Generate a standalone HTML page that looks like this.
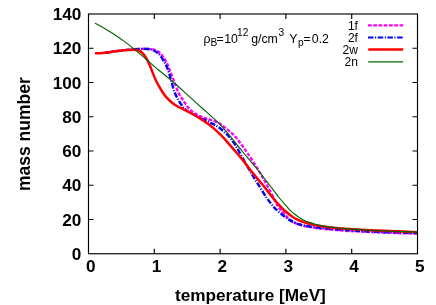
<!DOCTYPE html>
<html><head><meta charset="utf-8"><style>
html,body{margin:0;padding:0;background:#fff;}
body{width:436px;height:305px;overflow:hidden;}
svg{display:block;font-family:"Liberation Sans",sans-serif;}
.b{font-weight:bold;font-size:17.2px;fill:#000;}
.r{font-size:12.3px;fill:#000;}
</style></head><body>
<svg width="436" height="305" viewBox="0 0 436 305">
<defs><filter id="idf" x="0" y="0" width="436" height="305" filterUnits="userSpaceOnUse" color-interpolation-filters="sRGB"><feOffset dx="0" dy="0"/></filter></defs>
<rect width="436" height="305" fill="#fff"/>
<clipPath id="cp"><rect x="88.5" y="14.0" width="329.0" height="239.75"/></clipPath>
<g fill="none" stroke-linejoin="round" clip-path="url(#cp)">
<path d="M105.20,52.70 C106.15,52.57 108.98,52.17 110.90,51.90 C112.82,51.63 114.78,51.36 116.70,51.10 C118.62,50.84 120.50,50.56 122.40,50.35 C124.30,50.14 126.07,50.03 128.10,49.85 C130.13,49.67 132.37,49.46 134.60,49.30 C136.83,49.14 139.18,48.97 141.50,48.90 C143.82,48.83 146.33,48.73 148.50,48.90 C150.67,49.07 152.50,49.12 154.50,49.90 C156.50,50.68 158.67,51.82 160.50,53.60 C162.33,55.38 164.18,58.45 165.50,60.60 C166.82,62.75 167.53,64.50 168.40,66.50 C169.27,68.50 169.65,69.87 170.70,72.60 C171.75,75.33 173.37,79.45 174.70,82.90 C176.03,86.35 177.33,90.47 178.70,93.30 C180.07,96.13 181.43,97.65 182.90,99.90 C184.37,102.15 185.77,104.72 187.50,106.80 C189.23,108.88 191.38,110.93 193.30,112.40 C195.22,113.87 196.90,114.60 199.00,115.60 C201.10,116.60 203.90,117.67 205.90,118.40 C207.90,119.13 208.82,119.18 211.00,120.00 C213.18,120.82 216.67,122.03 219.00,123.30 C221.33,124.57 222.53,125.62 225.00,127.60 C227.47,129.58 231.23,132.58 233.80,135.20 C236.37,137.82 238.13,140.33 240.40,143.30 C242.67,146.27 244.55,148.78 247.40,153.00 C250.25,157.22 254.28,163.33 257.50,168.60 C260.72,173.87 263.87,179.45 266.70,184.60 C269.53,189.75 272.62,195.87 274.50,199.50 C276.38,203.13 276.93,204.65 278.00,206.40 C279.07,208.15 279.77,208.63 280.90,210.00 C282.03,211.37 283.65,213.32 284.80,214.60 C285.95,215.88 286.82,216.77 287.80,217.70 C288.78,218.63 289.55,219.33 290.70,220.20 C291.85,221.07 293.22,222.13 294.70,222.90 C296.18,223.67 297.97,224.28 299.60,224.80 C301.23,225.32 302.87,225.65 304.50,226.00 C306.13,226.35 307.75,226.60 309.40,226.90 C311.05,227.20 312.62,227.53 314.40,227.80 C316.18,228.07 317.50,228.22 320.10,228.50 C322.70,228.78 325.85,229.13 330.00,229.50 C334.15,229.87 338.33,230.27 345.00,230.70 C351.67,231.13 361.67,231.72 370.00,232.10 C378.33,232.48 386.92,232.75 395.00,233.00 C403.08,233.25 414.58,233.50 418.50,233.60" stroke="#ff00ff" stroke-width="2.4" stroke-dasharray="3.7 1.55"/>
<path d="M105.20,52.70 C106.15,52.57 108.98,52.17 110.90,51.90 C112.82,51.63 114.78,51.36 116.70,51.10 C118.62,50.84 120.50,50.56 122.40,50.35 C124.30,50.14 126.07,50.03 128.10,49.85 C130.13,49.67 132.37,49.45 134.60,49.30 C136.83,49.15 139.40,49.00 141.50,48.95 C143.60,48.90 145.30,48.81 147.20,49.00 C149.10,49.19 150.98,49.28 152.90,50.10 C154.82,50.92 156.97,52.22 158.70,53.90 C160.43,55.58 161.97,58.10 163.30,60.20 C164.63,62.30 165.72,64.28 166.70,66.50 C167.68,68.72 168.45,71.17 169.20,73.50 C169.95,75.83 170.35,77.50 171.20,80.50 C172.05,83.50 173.12,88.27 174.30,91.50 C175.48,94.73 176.87,97.35 178.30,99.90 C179.73,102.45 181.37,104.92 182.90,106.80 C184.43,108.68 185.58,109.83 187.50,111.20 C189.42,112.57 192.22,113.83 194.40,115.00 C196.58,116.17 198.42,117.17 200.60,118.20 C202.78,119.23 205.43,120.23 207.50,121.20 C209.57,122.17 211.08,122.95 213.00,124.00 C214.92,125.05 216.67,125.77 219.00,127.50 C221.33,129.23 224.67,132.05 227.00,134.40 C229.33,136.75 231.08,138.92 233.00,141.60 C234.92,144.28 236.33,146.77 238.50,150.50 C240.67,154.23 243.75,160.00 246.00,164.00 C248.25,168.00 249.83,170.90 252.00,174.50 C254.17,178.10 256.58,181.75 259.00,185.60 C261.42,189.45 264.33,194.40 266.50,197.60 C268.67,200.80 270.58,203.02 272.00,204.80 C273.42,206.58 273.68,206.98 275.00,208.30 C276.32,209.62 278.27,211.30 279.90,212.70 C281.53,214.10 283.17,215.47 284.80,216.70 C286.43,217.93 288.05,219.12 289.70,220.10 C291.35,221.08 293.05,221.88 294.70,222.60 C296.35,223.32 297.97,223.90 299.60,224.40 C301.23,224.90 302.87,225.25 304.50,225.60 C306.13,225.95 307.75,226.23 309.40,226.50 C311.05,226.77 312.62,226.97 314.40,227.20 C316.18,227.43 317.50,227.63 320.10,227.90 C322.70,228.17 325.85,228.45 330.00,228.80 C334.15,229.15 338.33,229.55 345.00,230.00 C351.67,230.45 361.67,231.10 370.00,231.50 C378.33,231.90 386.92,232.15 395.00,232.40 C403.08,232.65 414.58,232.90 418.50,233.00" stroke="#0000ff" stroke-width="2.4" stroke-dasharray="5.5 1.55 1.1 1.55"/>
<path d="M95.90,53.30 C96.50,53.28 97.95,53.30 99.50,53.20 C101.05,53.10 103.30,52.92 105.20,52.70 C107.10,52.48 108.98,52.17 110.90,51.90 C112.82,51.63 114.78,51.35 116.70,51.10 C118.62,50.85 120.50,50.58 122.40,50.40 C124.30,50.22 126.33,50.11 128.10,50.00 C129.87,49.89 131.60,49.77 133.00,49.75 C134.40,49.73 135.45,49.73 136.50,49.90 C137.55,50.07 138.42,50.37 139.30,50.80 C140.18,51.23 140.93,51.70 141.80,52.50 C142.67,53.30 143.60,54.37 144.50,55.60 C145.40,56.83 146.28,58.20 147.20,59.90 C148.12,61.60 149.05,63.55 150.00,65.80 C150.95,68.05 151.85,70.83 152.90,73.40 C153.95,75.97 155.15,78.83 156.30,81.20 C157.45,83.57 158.75,85.77 159.80,87.60 C160.85,89.43 161.60,90.70 162.60,92.20 C163.60,93.70 164.32,94.93 165.80,96.60 C167.28,98.27 169.60,100.60 171.50,102.20 C173.40,103.80 175.30,105.05 177.20,106.20 C179.10,107.35 180.98,108.13 182.90,109.10 C184.82,110.07 186.78,111.02 188.70,112.00 C190.62,112.98 192.30,113.77 194.40,115.00 C196.50,116.23 199.12,117.98 201.30,119.40 C203.48,120.82 205.38,121.97 207.50,123.50 C209.62,125.03 211.92,126.82 214.00,128.60 C216.08,130.38 218.17,132.42 220.00,134.20 C221.83,135.98 222.83,136.90 225.00,139.30 C227.17,141.70 230.13,145.25 233.00,148.60 C235.87,151.95 239.03,155.50 242.20,159.40 C245.37,163.30 248.53,167.68 252.00,172.00 C255.47,176.32 260.00,181.60 263.00,185.30 C266.00,189.00 268.00,191.67 270.00,194.20 C272.00,196.73 273.35,198.55 275.00,200.50 C276.65,202.45 278.27,204.18 279.90,205.90 C281.53,207.62 283.17,209.33 284.80,210.80 C286.43,212.27 288.05,213.47 289.70,214.70 C291.35,215.93 293.05,217.22 294.70,218.20 C296.35,219.18 297.97,219.90 299.60,220.60 C301.23,221.30 302.87,221.87 304.50,222.40 C306.13,222.93 307.77,223.37 309.40,223.80 C311.03,224.23 312.52,224.62 314.30,225.00 C316.08,225.38 317.48,225.70 320.10,226.10 C322.72,226.50 325.85,226.95 330.00,227.40 C334.15,227.85 338.33,228.33 345.00,228.80 C351.67,229.27 361.67,229.78 370.00,230.20 C378.33,230.62 386.92,230.97 395.00,231.30 C403.08,231.63 414.58,232.05 418.50,232.20" stroke="#ff0000" stroke-width="2.5" stroke-linecap="round"/>
<path d="M95.00,23.20 C95.83,23.65 98.33,24.98 100.00,25.90 C101.67,26.82 103.33,27.73 105.00,28.70 C106.67,29.67 108.33,30.67 110.00,31.70 C111.67,32.73 112.50,33.20 115.00,34.90 C117.50,36.60 121.85,39.57 125.00,41.90 C128.15,44.23 130.57,46.17 133.90,48.90 C137.23,51.63 140.88,54.78 145.00,58.30 C149.12,61.82 154.10,66.22 158.60,70.00 C163.10,73.78 167.13,76.82 172.00,81.00 C176.87,85.18 183.80,91.50 187.80,95.10 C191.80,98.70 192.72,99.63 196.00,102.60 C199.28,105.57 203.67,109.43 207.50,112.90 C211.33,116.37 215.47,119.82 219.00,123.40 C222.53,126.98 225.75,130.92 228.70,134.40 C231.65,137.88 234.35,141.37 236.70,144.30 C239.05,147.23 240.58,149.30 242.80,152.00 C245.02,154.70 247.55,157.58 250.00,160.50 C252.45,163.42 255.17,166.58 257.50,169.50 C259.83,172.42 261.93,175.33 264.00,178.00 C266.07,180.67 268.15,183.23 269.90,185.50 C271.65,187.77 272.92,189.52 274.50,191.60 C276.08,193.68 277.68,195.87 279.40,198.00 C281.12,200.13 283.08,202.43 284.80,204.40 C286.52,206.37 288.05,208.17 289.70,209.80 C291.35,211.43 293.05,212.88 294.70,214.20 C296.35,215.52 297.97,216.67 299.60,217.70 C301.23,218.73 302.87,219.62 304.50,220.40 C306.13,221.18 307.77,221.80 309.40,222.40 C311.03,223.00 312.52,223.50 314.30,224.00 C316.08,224.50 317.48,224.90 320.10,225.40 C322.72,225.90 325.85,226.47 330.00,227.00 C334.15,227.53 338.33,228.07 345.00,228.60 C351.67,229.13 361.67,229.75 370.00,230.20 C378.33,230.65 386.92,230.97 395.00,231.30 C403.08,231.63 414.58,232.05 418.50,232.20" stroke="#006400" stroke-width="1.15"/>
</g>
<g stroke="#000" stroke-width="1.15" fill="none">
<rect x="88.5" y="14.0" width="329.0" height="239.75"/>
<path d="M88.50,219.50 h5 M417.50,219.50 h-5"/><path d="M88.50,185.25 h5 M417.50,185.25 h-5"/><path d="M88.50,151.00 h5 M417.50,151.00 h-5"/><path d="M88.50,116.75 h5 M417.50,116.75 h-5"/><path d="M88.50,82.50 h5 M417.50,82.50 h-5"/><path d="M88.50,48.25 h5 M417.50,48.25 h-5"/><path d="M154.30,253.75 v-5 M154.30,14.00 v5"/><path d="M220.10,253.75 v-5 M220.10,14.00 v5"/><path d="M285.90,253.75 v-5 M285.90,14.00 v5"/><path d="M351.70,253.75 v-5 M351.70,14.00 v5"/>
</g>
<g class="b" filter="url(#idf)"><text x="81.4" y="259.75" text-anchor="end">0</text><text x="81.4" y="225.50" text-anchor="end">20</text><text x="81.4" y="191.25" text-anchor="end">40</text><text x="81.4" y="157.00" text-anchor="end">60</text><text x="81.4" y="122.75" text-anchor="end">80</text><text x="81.4" y="88.50" text-anchor="end">100</text><text x="81.4" y="54.25" text-anchor="end">120</text><text x="81.4" y="20.00" text-anchor="end">140</text><text x="90.80" y="271.7" text-anchor="middle">0</text><text x="156.60" y="271.7" text-anchor="middle">1</text><text x="222.40" y="271.7" text-anchor="middle">2</text><text x="288.20" y="271.7" text-anchor="middle">3</text><text x="354.00" y="271.7" text-anchor="middle">4</text><text x="419.80" y="271.7" text-anchor="middle">5</text>
<text x="250.4" y="301" text-anchor="middle">temperature [MeV]</text>
<text transform="translate(30,134.1) rotate(-90)" text-anchor="middle" style="font-size:17.55px">mass number</text>
</g>
<g class="r" filter="url(#idf)">
<text y="42.5"><tspan x="203.4">ρ</tspan><tspan x="210.4" dy="3" font-size="10.2">B</tspan><tspan x="216.6" dy="-3">=</tspan><tspan x="224.2">10</tspan><tspan x="237" dy="-6.2" font-size="10.2">12</tspan><tspan x="251.2" dy="6.2">g/cm</tspan><tspan x="278.6" dy="-6.2" font-size="10.2">3</tspan><tspan x="289.3" dy="6.2">Y</tspan><tspan x="298" dy="3" font-size="10.2">p</tspan><tspan x="303.6" dy="-3">=</tspan><tspan x="311.8">0.2</tspan></text>
<text x="357.9" y="29.6" text-anchor="end" font-size="12">1f</text>
<text x="357.9" y="41.6" text-anchor="end" font-size="12">2f</text>
<text x="357.9" y="53.6" text-anchor="end" font-size="12">2w</text>
<text x="357.9" y="65.6" text-anchor="end" font-size="12">2n</text>
</g>
<g fill="none">
<path d="M368.0,25.35 H403.2" stroke="#ff00ff" stroke-width="2.2" stroke-dasharray="3.7 1.55"/>
<path d="M368.0,37.5 H402.7" stroke="#0000ff" stroke-width="2.2" stroke-dasharray="5.5 1.55 1.1 1.55"/>
<path d="M368.2,49.5 H403.2" stroke="#ff0000" stroke-width="2.3"/>
<path d="M368.2,61.85 H403.1" stroke="#006400" stroke-width="1.3"/>
</g>
</svg>
</body></html>
